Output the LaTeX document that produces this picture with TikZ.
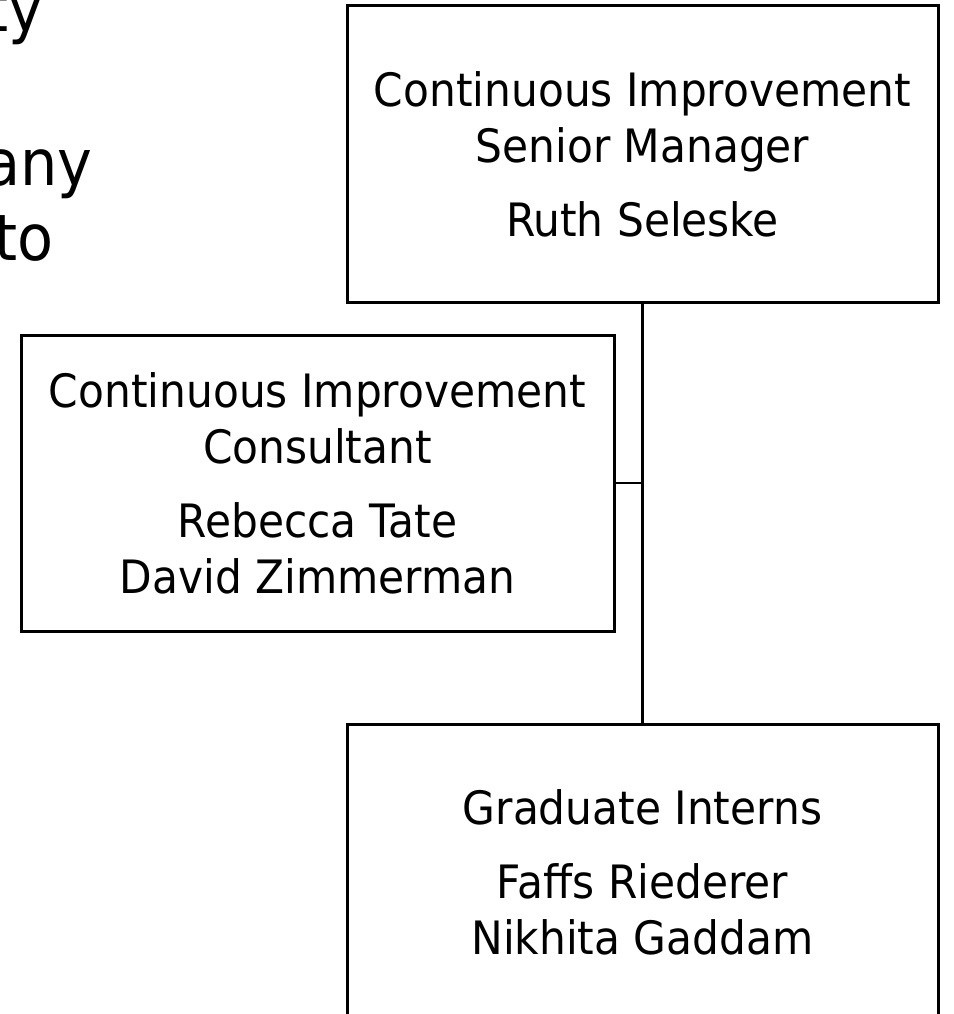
\documentclass[tikz,border=0pt]{standalone}
\usepackage{fontspec}
\setmainfont[FakeStretch=0.92]{DejaVu Sans}
\begin{document}
\begin{tikzpicture}[x=1pt,y=-1pt,
  box/.style={draw, line width=3pt, inner sep=0pt, minimum height=296pt,
    align=center, font=\fontsize{46}{56}\selectfont},
  conn/.style={draw, line width=2.6pt},
  slidetext/.style={anchor=base east, inner sep=0pt, font=\fontsize{64}{75}\selectfont}]
\useasboundingbox[fill=white] (0,0) rectangle (953,1014);
% partial slide text behind the chart
\node[slidetext] (s1) at (44,32) {ty};
\node[slidetext] (s2) at (93,185) {any};
\node[slidetext] (s3) at (54,260) {to};
% boxes
\node[box, minimum width=591pt] (top) at (642.5,154)
  {Continuous Improvement\\Senior Manager\\[18pt]Ruth Seleske};
\node[box, minimum width=593pt] (mid) at (317.5,483)
  {Continuous Improvement\\Consultant\\[18pt]Rebecca Tate\\David Zimmerman};
\node[box, minimum width=591pt] (bot) at (642.5,872)
  {Graduate Interns\\[18pt]Faffs Riederer\\Nikhita Gaddam};
% connectors
\draw[conn] (top.south) -- (bot.north);
\draw[conn] (mid.east) -- (mid.east -| top.south);
\end{tikzpicture}
\end{document}
